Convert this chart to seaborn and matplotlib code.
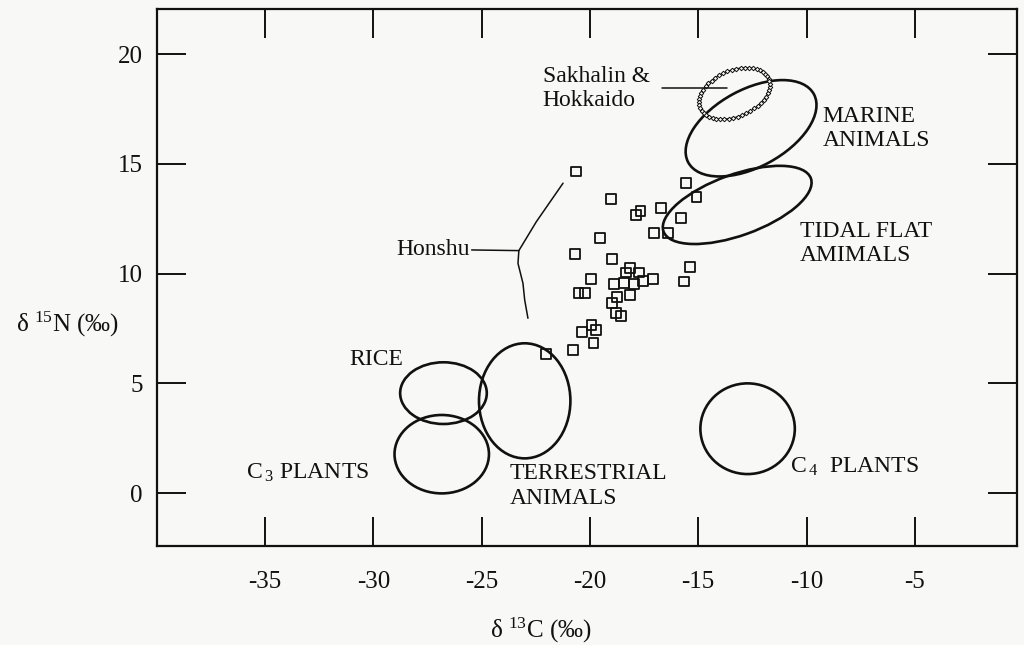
import matplotlib.pyplot as plt
import numpy as np
import pandas as pd
import seaborn as sns
from matplotlib.patches import Ellipse

# bone collagen values (Honshu)
bone_d13c = [-20.63, -19.01, -15.58, -15.08, -17.66, -17.89, -16.72, -15.79, -17.04, -16.39,
             -19.55, -20.70, -18.99, -15.36, -15.67, -19.95, -20.53, -20.23, -18.16, -18.35,
             -17.73, -18.90, -18.43, -17.95, -17.53, -17.10, -18.16, -18.75, -18.99, -18.81,
             -18.55, -19.93, -19.70, -20.37, -19.83, -20.78, -22.01]
bone_d15n = [14.65, 13.39, 14.12, 13.48, 12.87, 12.66, 12.98, 12.55, 11.84, 11.84,
             11.61, 10.90, 10.68, 10.29, 9.64, 9.76, 9.11, 9.11, 10.25, 10.05,
             10.05, 9.53, 9.56, 9.53, 9.67, 9.76, 9.03, 8.95, 8.68, 8.20,
             8.09, 7.66, 7.44, 7.35, 6.83, 6.51, 6.34]

# food source ranges: centre, width, height, angle
food_names = ["rice", "c3", "terrestrial", "c4", "marine", "tidal"]
food_cx = [-26.76, -26.84, -23.01, -12.72, -12.56, -13.20]
food_cy = [4.56, 1.78, 4.21, 2.94, 16.62, 13.13]
food_w = [4.0, 4.36, 4.22, 4.36, 6.58, 7.22]
food_h = [2.81, 3.57, 5.24, 4.13, 3.53, 2.78]
food_angle = [0, 0, 0, 0, 28, 19.5]

# Sakhalin & Hokkaido range
hok_cx, hok_cy, hok_w, hok_h, hok_angle = -13.33, 18.21, 3.42, 2.1, 22.5

# Honshu pointer lines
honshu_x = [-25.46, -23.28, -22.47, -21.24]
honshu_y = [11.08, 11.05, 12.37, 14.12]
honshu_low_x = [-23.28, -23.32, -23.09, -23.01, -22.86]
honshu_low_y = [11.05, 10.47, 9.56, 8.80, 7.97]
hok_line_x = [-16.69, -13.68]
hok_line_y = [18.46, 18.46]

label_text = ["RICE", "C$_{\\,3}$ PLANTS", "TERRESTRIAL\nANIMALS", "C$_{\\,4}$  PLANTS",
              "MARINE\nANIMALS", "TIDAL FLAT\nAMIMALS", "Sakhalin &\nHokkaido"]
label_x = [-31.10, -35.87, -23.71, -10.74, -9.26, -10.31, -22.18]
label_y = [6.07, 0.91, 0.33, 1.21, 16.62, 11.38, 18.43]

INK = "#111111"
PAPER = "#f8f8f7"


def draw_ranges(ax):
    for cx, cy, w, h, ang in zip(food_cx, food_cy, food_w, food_h, food_angle):
        ax.add_patch(Ellipse((cx, cy), w, h, angle=ang, fill=False, ec=INK, lw=1.9))

    t = np.linspace(0, 2 * np.pi, 150)
    th = np.deg2rad(hok_angle)
    a, b = hok_w / 2, hok_h / 2
    ex = hok_cx + a * np.cos(t) * np.cos(th) - b * np.sin(t) * np.sin(th)
    ey = hok_cy + a * np.cos(t) * np.sin(th) + b * np.sin(t) * np.cos(th)
    ax.plot(ex, ey, color=INK, lw=0.8, marker="D", ms=2.3, mfc=PAPER, mec=INK, mew=0.7,
            markevery=3)


def main():
    sns.set_theme(style="ticks")
    plt.rcParams["font.family"] = ["Liberation Serif", "DejaVu Serif"]
    plt.rcParams["mathtext.fontset"] = "custom"
    plt.rcParams["mathtext.rm"] = "Liberation Serif"
    plt.rcParams["mathtext.default"] = "regular"
    plt.rcParams["axes.unicode_minus"] = False

    fig = plt.figure(figsize=(10.24, 6.45), dpi=100, facecolor=PAPER)
    ax = fig.add_axes([0.153, 0.1535, 0.8398, 0.8325], facecolor=PAPER)

    df = pd.DataFrame({"d13c": bone_d13c, "d15n": bone_d15n})
    sns.scatterplot(data=df, x="d13c", y="d15n", marker="s", s=50, fc="none", ec=INK,
                    linewidth=1.3, ax=ax, zorder=3)

    draw_ranges(ax)
    ax.plot(honshu_x, honshu_y, color=INK, lw=1.1)
    ax.plot(honshu_low_x, honshu_low_y, color=INK, lw=1.1)
    ax.plot(hok_line_x, hok_line_y, color=INK, lw=1.1)
    ax.text(-25.55, 11.08, "Honshu", ha="right", va="center", fontsize=17, color=INK)

    for txt, x, y in zip(label_text, label_x, label_y):
        ax.text(x, y, txt, ha="left", va="center", fontsize=17, color=INK, linespacing=1.2)

    ax.set_xlim(-40, -0.3)
    ax.set_ylim(-2.4, 22.05)
    ax.set_xticks([-35, -30, -25, -20, -15, -10, -5])
    ax.set_yticks([0, 5, 10, 15, 20])
    ax.tick_params(direction="in", length=21, width=1.4, colors=INK, labelsize=18,
                   top=True, right=True, labeltop=False, labelright=False)
    ax.tick_params(axis="x", pad=18)
    ax.tick_params(axis="y", pad=10)
    for side in ax.spines.values():
        side.set_linewidth(1.6)
        side.set_color(INK)

    ax.set_xlabel("δ $^{13}$C (‰)", fontsize=18, color=INK, va="center")
    ax.xaxis.set_label_coords(0.447, -0.157)
    ax.set_ylabel("δ $^{15}$N (‰)", fontsize=18, color=INK, rotation=0, va="center")
    ax.yaxis.set_label_coords(-0.104, 0.412)

    fig.savefig("out.png", dpi=100, facecolor=PAPER)
    plt.close(fig)


if __name__ == "__main__":
    main()
